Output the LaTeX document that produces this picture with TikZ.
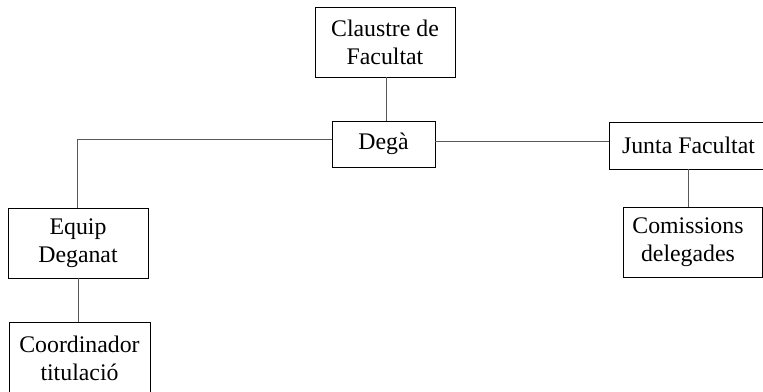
\documentclass[tikz,border=0pt]{standalone}
\usepackage{fontspec}
\setmainfont{Liberation Serif}
\begin{document}
\begin{tikzpicture}[x=1pt,y=-1pt,
  box/.style={draw=black,line width=0.9pt,rectangle,inner sep=0pt,align=center,
    font=\fontsize{23.8}{28}\selectfont},
  conn/.style={draw=black!65,line width=0.9pt}]
\useasboundingbox (0,0) rectangle (763,391);
\clip (0,0) rectangle (763,391);
\node[box,minimum width=140pt,minimum height=70pt] (cl) at (385,42) {Claustre de\\Facultat};
\node[box,minimum width=103pt,minimum height=46pt] (de) at (383.5,144) {Degà};
\node[box,minimum width=159pt,minimum height=47pt] (ju) at (688.5,145.5) {Junta Facultat};
\node[box,minimum width=139pt,minimum height=70pt] (co) at (692.5,242) {};
\node[align=center,inner sep=0pt,font=\fontsize{23.8}{28}\selectfont] (cot) at (688,242) {Comissions\\delegades};
\node[box,minimum width=140pt,minimum height=70pt] (eq) at (78,243) {Equip\\Deganat};
\node[box,minimum width=141pt,minimum height=72pt] (cd) at (79.5,358) {Coordinador\\titulació};
\coordinate (bend) at (77,139);
\draw[conn] (cl.south -| 386,0) -- (de.north -| 386,0);
\draw[conn] (de.west |- 0,139) -- (bend) -- (eq.north -| bend);
\draw[conn] (de.east |- 0,141) -- (ju.west |- 0,141);
\draw[conn] (ju.south -| 688,0) -- (co.north -| 688,0);
\draw[conn] (eq.south -| 78,0) -- (cd.north -| 78,0);
\end{tikzpicture}
\end{document}
